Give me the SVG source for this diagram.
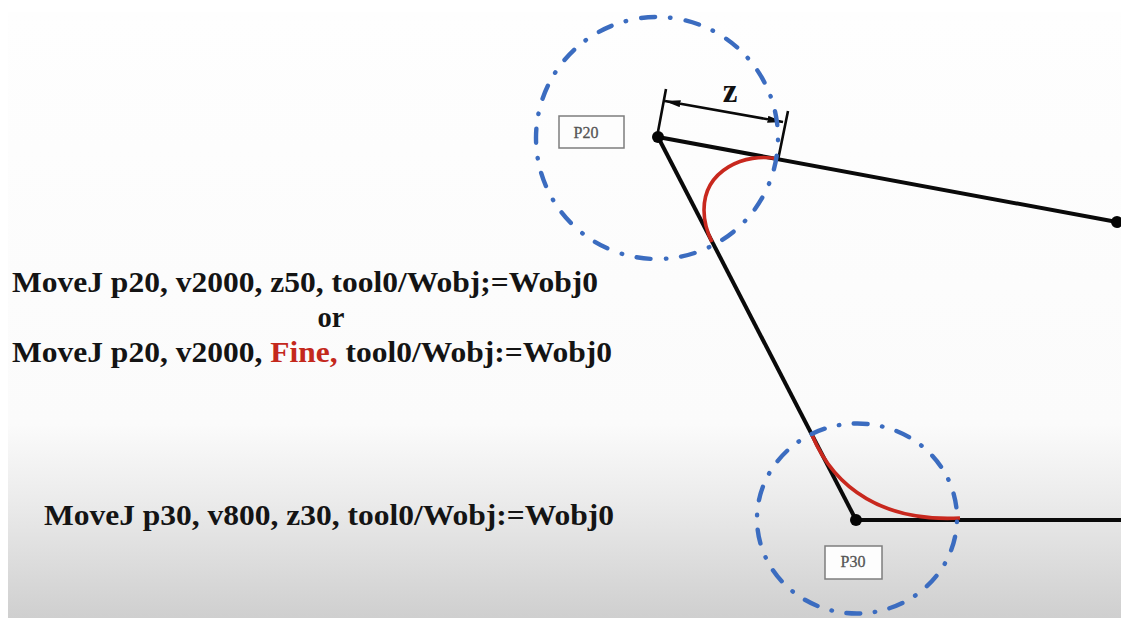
<svg xmlns="http://www.w3.org/2000/svg" width="1121" height="618" viewBox="0 0 1121 618">
<style>
.cmd{font-family:"Liberation Serif","Times New Roman",serif;font-weight:bold;font-size:28.5px;fill:#141414}
.lbl{font-family:"Liberation Serif","Times New Roman",serif;font-size:16px;fill:#555;stroke:#555;stroke-width:.3;text-anchor:middle}
.zone{fill:none;stroke:#3b6cc0;stroke-width:4.4;stroke-linecap:round}
.seg{fill:none;stroke:#0a0a0a;stroke-width:4}
.blend{fill:none;stroke:#c8281e;stroke-width:3.6}
.box{fill:#fdfdfd;stroke:#7d7d7d;stroke-width:1.5}
.dim{fill:none;stroke:#0a0a0a;stroke-width:2.6}
</style>
<defs>
<linearGradient id="bg" x1="0" y1="0" x2="0" y2="1">
<stop offset="0" stop-color="#fefefe"/><stop offset=".68" stop-color="#fbfbfb"/><stop offset=".8" stop-color="#ececec"/><stop offset="1" stop-color="#cfcfcf"/>
</linearGradient>
<marker id="ah" viewBox="0 0 16 7" refX="15.5" refY="3.5" markerWidth="16" markerHeight="7" markerUnits="userSpaceOnUse" orient="auto-start-reverse"><path d="M0 0L16 3.5L0 7Z" fill="#0a0a0a"/></marker>
</defs>
<rect width="1121" height="618" fill="#fff"/>
<rect x="8" y="12" width="1113" height="606" fill="url(#bg)"/>
<g id="connectors">
<path class="seg" d="M658 137L1117 222"/>
<path class="seg" d="M658 137L856 520"/>
<path class="seg" d="M856 520H1121"/>
<path class="blend" d="M778 159C745 152 704 170 704 210C704 222 707 232 712 242"/>
<path class="blend" d="M812 435C835 490 885 522 960 518"/>
<path class="dim" d="M666 89L657 137M788 111L778 160"/>
<path class="dim" d="M665 101L783 122" marker-start="url(#ah)" marker-end="url(#ah)"/>
</g>
<g id="p20"><circle class="zone" cx="657" cy="138" r="121" stroke-dasharray="14 14.85 .5 15.35" transform="rotate(-97.5 657 138)"/><circle cx="658" cy="137" r="6" fill="#050505"/><rect class="box" x="559" y="116" width="65" height="32"/><text class="lbl" x="586" y="138">P20</text></g>
<g id="p30"><ellipse class="zone" cx="857" cy="518.5" rx="95" ry="100" stroke-dasharray="14 14.6 .5 14.6" transform="rotate(-92 857 518.5)"/><circle cx="856" cy="520" r="6" fill="#050505"/><rect class="box" x="825" y="546" width="57" height="33"/><text class="lbl" x="853" y="567">P30</text></g>
<g id="pt-end"><circle cx="1117" cy="222" r="6" fill="#050505"/></g>
<text x="730" y="102" font-family="Liberation Serif,serif" font-weight="bold" font-size="33" fill="#111" text-anchor="middle">z</text>
<g id="code">
<text class="cmd" x="12" y="292" textLength="586" lengthAdjust="spacingAndGlyphs">MoveJ p20, v2000, z50, tool0/Wobj;=Wobj0</text>
<text class="cmd" x="331" y="327" text-anchor="middle">or</text>
<text class="cmd" x="12" y="362" textLength="600" lengthAdjust="spacingAndGlyphs">MoveJ p20, v2000, <tspan fill="#c4281c">Fine,</tspan> tool0/Wobj:=Wobj0</text>
<text class="cmd" x="44" y="525" textLength="570" lengthAdjust="spacingAndGlyphs">MoveJ p30, v800, z30, tool0/Wobj:=Wobj0</text>
</g>
</svg>
